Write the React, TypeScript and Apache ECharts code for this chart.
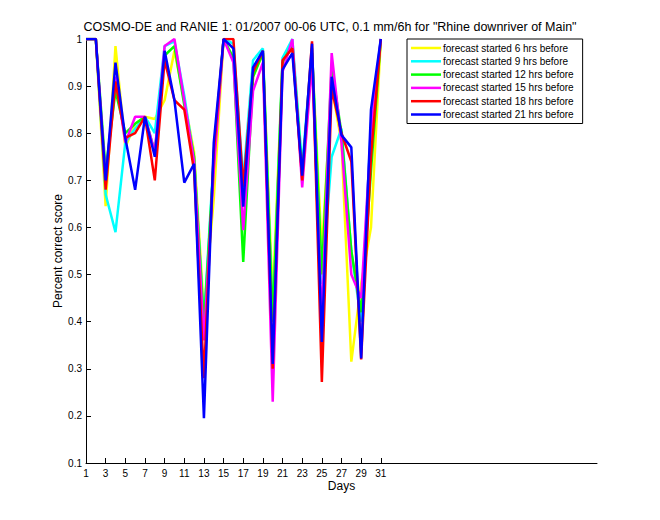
import React, { useEffect, useRef } from "react";
import * as echarts from "echarts";

const days = [1, 2, 3, 4, 5, 6, 7, 8, 9, 10, 11, 12, 13, 14, 15, 16, 17, 18, 19, 20, 21, 22, 23, 24, 25, 26, 27, 28, 29, 30, 31];
const xTickValues = [1, 3, 5, 7, 9, 11, 13, 15, 17, 19, 21, 23, 25, 27, 29, 31];

const seriesNames = [
  "forecast started 6 hrs before",
  "forecast started 9 hrs before",
  "forecast started 12 hrs before",
  "forecast started 15 hrs before",
  "forecast started 18 hrs before",
  "forecast started 21 hrs before",
];
const seriesColors = ["#ffff00", "#00ffff", "#00ff00", "#ff00ff", "#ff0000", "#0000ff"];

const h6 = [1, 1, 0.645, 0.985, 0.77, 0.82, 0.835, 0.83, 0.87, 0.975, 0.87, 0.76, 0.42, 0.66, 1, 0.98, 0.68, 0.92, 0.97, 0.45, 0.95, 0.99, 0.72, 0.97, 0.55, 0.9, 0.78, 0.315, 0.48, 0.6, 1];
const h9 = [1, 1, 0.67, 0.59, 0.78, 0.81, 0.835, 0.8, 0.985, 0.995, 0.88, 0.745, 0.4, 0.75, 1, 0.99, 0.7, 0.955, 0.98, 0.4, 0.96, 1, 0.73, 0.98, 0.48, 0.75, 0.81, 0.55, 0.4, 0.82, 1];
const h12 = [1, 1, 0.72, 0.89, 0.8, 0.82, 0.835, 0.76, 0.965, 0.985, 0.86, 0.75, 0.39, 0.74, 1, 0.96, 0.527, 0.92, 0.97, 0.4, 0.95, 0.99, 0.71, 0.97, 0.5, 0.94, 0.8, 0.55, 0.42, 0.72, 1];
const h15 = [1, 1, 0.7, 0.92, 0.78, 0.835, 0.835, 0.76, 0.985, 1, 0.87, 0.74, 0.36, 0.72, 1, 0.95, 0.594, 0.89, 0.95, 0.23, 0.93, 1, 0.685, 0.95, 0.4, 0.97, 0.78, 0.5, 0.45, 0.8, 1];
const h18 = [1, 1, 0.68, 0.91, 0.79, 0.8, 0.835, 0.7, 0.955, 0.87, 0.85, 0.72, 0.28, 0.76, 1, 1, 0.686, 0.93, 0.975, 0.3, 0.955, 0.98, 0.7, 0.995, 0.272, 0.895, 0.8, 0.74, 0.32, 0.75, 1];
const h21 = [1, 1, 0.7, 0.95, 0.79, 0.68, 0.835, 0.75, 0.975, 0.87, 0.695, 0.735, 0.195, 0.78, 1, 0.98, 0.644, 0.94, 0.975, 0.31, 0.935, 0.97, 0.71, 0.99, 0.357, 0.92, 0.796, 0.77, 0.322, 0.85, 1];

const allSeries = [h6, h9, h12, h15, h18, h21];

const FONT = "Liberation Sans, Arial, Helvetica, sans-serif";

export default function App() {
  const ref = useRef<HTMLDivElement>(null);
  useEffect(() => {
    if (!ref.current) return;
    const chart = echarts.init(ref.current, undefined, { renderer: "svg" });
    chart.setOption({
      animation: false,
      backgroundColor: "#ffffff",
      textStyle: { fontFamily: FONT },
      title: {
        text: 'COSMO-DE and RANIE 1: 01/2007 00-06 UTC, 0.1 mm/6h for "Rhine downriver of Main"',
        left: "center",
        top: 15,
        textStyle: { fontSize: 12.5, fontWeight: "normal", color: "#000", fontFamily: FONT },
      },
      legend: {
        data: seriesNames,
        orient: "vertical",
        left: 407,
        top: 39,
        icon: "rect",
        itemWidth: 30,
        itemHeight: 2.5,
        itemGap: 3.3,
        padding: [4, 9, 4, 4],
        borderColor: "#000",
        borderWidth: 1,
        backgroundColor: "#fff",
        textStyle: { fontSize: 10, lineHeight: 10, color: "#000", fontFamily: FONT, padding: [0, 0, 0, -3] },
      },
      grid: { left: 86, right: 63, top: 39, bottom: 57, containLabel: false },
      xAxis: {
        type: "value",
        min: 1,
        max: 53,
        name: "Days",
        nameLocation: "middle",
        nameGap: 17,
        nameMoveOverlap: false,
        nameTextStyle: { fontSize: 12, color: "#000", fontFamily: FONT },
        axisLine: { show: true, lineStyle: { color: "#000", width: 1 } },
        axisTick: { show: true, inside: true, length: 5, customValues: xTickValues, lineStyle: { color: "#000" } },
        axisLabel: { customValues: xTickValues, color: "#000", fontSize: 10, margin: 5, fontFamily: FONT },
        splitLine: { show: false },
      },
      yAxis: {
        type: "value",
        min: 0.1,
        max: 1,
        interval: 0.1,
        name: "Percent correct score",
        nameLocation: "middle",
        nameGap: 22,
        nameMoveOverlap: false,
        nameTextStyle: { fontSize: 12, color: "#000", fontFamily: FONT },
        axisLine: { show: true, lineStyle: { color: "#000", width: 1 } },
        axisTick: { show: true, inside: true, length: 5, lineStyle: { color: "#000" } },
        axisLabel: {
          color: "#000",
          fontSize: 10,
          margin: 4,
          fontFamily: FONT,
          formatter: (v: number) => String(Math.round(v * 10) / 10),
        },
        splitLine: { show: false },
      },
      series: allSeries.map((arr, i) => ({
        name: seriesNames[i],
        type: "line",
        data: days.map((d, j) => [d, arr[j]]),
        symbol: "none",
        showSymbol: false,
        lineStyle: { width: 2.5, color: seriesColors[i] },
        itemStyle: { color: seriesColors[i] },
        z: 2 + i,
      })),
    });
    return () => chart.dispose();
  }, []);
  return (
    <div
      ref={ref}
      style={{ position: "absolute", left: 0, top: 0, width: 660, height: 520, background: "#fff" }}
    />
  );
}
